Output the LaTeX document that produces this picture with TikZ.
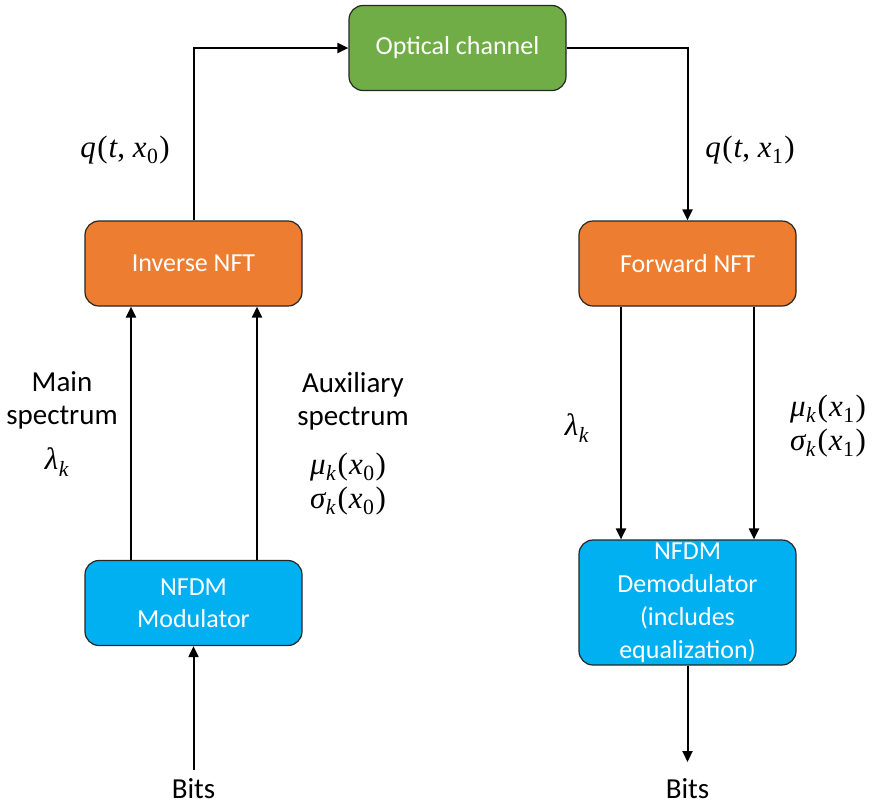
\documentclass[tikz,border=0pt]{standalone}
\usepackage{fontspec}
\setmainfont{Carlito}
\newfontfamily\serifmath{Liberation Serif}
\usetikzlibrary{arrows.meta}
\definecolor{cgreen}{HTML}{70AD47}
\definecolor{corange}{HTML}{ED7D31}
\definecolor{cblue}{HTML}{00B0F0}
\newcommand\mi[1]{{\serifmath\itshape #1}}
\newcommand\mysub[1]{\kern0.5pt\textsubscript{#1}}
\newcommand\lp{\kern1.5pt{\serifmath(}\kern1pt}
\newcommand\rp{\kern1pt{\serifmath)}}
\begin{document}
\begin{tikzpicture}[x=1pt,y=-1pt,
  blk/.style={draw=black!85,line width=1.2pt,rounded corners=14pt,minimum width=217pt,minimum height=85pt,text=white,font=\fontsize{26}{32}\selectfont,align=center,inner sep=0pt},
  arr/.style={line width=2pt,-{Triangle[length=11pt,width=10pt]}},
  lbl/.style={font=\fontsize{29}{33}\selectfont,align=center,inner sep=0pt},
  mth/.style={font=\serifmath\fontsize{31}{34}\selectfont,align=center,inner sep=0pt}]
\useasboundingbox (0,0) rectangle (878,807);
\node[blk,fill=cgreen] (oc) at (457.5,48) {Optical channel};
\node[blk,fill=corange] (inv) at (193.5,263.5) {Inverse NFT};
\node[blk,fill=corange] (fwd) at (687.5,263.5) {Forward NFT};
\node[blk,fill=cblue] (mod) at (193.5,603) {NFDM\\Modulator};
\node[blk,fill=cblue,minimum height=125pt,font=\fontsize{26}{33}\selectfont] (dem) at (687.5,602.5) {NFDM\\Demodulator\\(includes\\equalization)};
\coordinate (c1) at (193.5,48);
\coordinate (c2) at (687.5,48);
\draw[arr] (inv.north) -- (c1) -- (oc.west);
\draw[arr] (oc.east) -- (c2) -- (fwd.north);
\draw[arr] (mod.north -| 131,0) -- (inv.south -| 131,0);
\draw[arr] (mod.north -| 257,0) -- (inv.south -| 257,0);
\draw[arr] (fwd.south -| 621,0) -- (dem.north -| 621,0);
\draw[arr] (fwd.south -| 754,0) -- (dem.north -| 754,0);
\node[lbl] (bin) at (193.5,789) {Bits};
\node[lbl] (bout) at (687.5,789) {Bits};
\coordinate (bi) at (193.5,770);
\coordinate (bo) at (687.5,762);
\draw[arr] (bi) -- (mod.south);
\draw[arr] (dem.south) -- (bo);
\node[mth] (q0) at (125,150) {\mi{q}\lp\mi{t}, \mi{x}\mysub{0}\rp};
\node[mth] (q1) at (750,150) {\mi{q}\lp\mi{t}, \mi{x}\mysub{1}\rp};
\node[lbl] (ms) at (62,400) {Main\\spectrum};
\node[mth] (l0) at (57,462) {\mi{λ}\mysub{\mi{k}}};
\node[lbl] (as) at (353,401) {Auxiliary\\spectrum};
\node[mth] (m0) at (348,467) {\mi{μ}\mysub{\mi{k}}\lp\mi{x}\mysub{0}\rp};
\node[mth] (s0) at (348,501) {\mi{σ}\mysub{\mi{k}}\lp\mi{x}\mysub{0}\rp};
\node[mth] (l1) at (577,428) {\mi{λ}\mysub{\mi{k}}};
\node[mth] (m1) at (828,409) {\mi{μ}\mysub{\mi{k}}\lp\mi{x}\mysub{1}\rp};
\node[mth] (s1) at (828,443) {\mi{σ}\mysub{\mi{k}}\lp\mi{x}\mysub{1}\rp};
\end{tikzpicture}
\end{document}
